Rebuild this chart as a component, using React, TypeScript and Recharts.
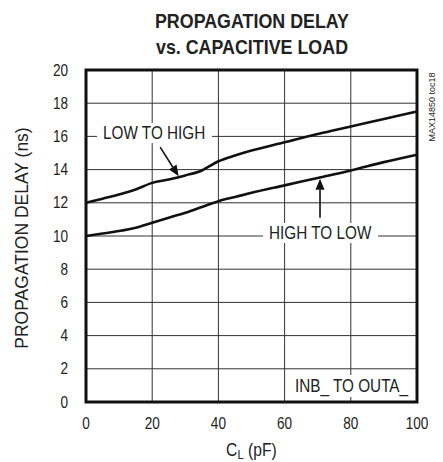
import React from 'react';
import { LineChart, Line, XAxis, YAxis, CartesianGrid, ReferenceLine, ReferenceArea } from 'recharts';

// load capacitance, pF
const CAP_LOAD = [0, 5, 10, 15, 20, 25, 30, 35, 40, 45, 50, 60, 70, 80, 90, 100];
// propagation delay, ns
const LOW_TO_HIGH = [12.0, 12.25, 12.5, 12.8, 13.2, 13.4, 13.65, 13.95, 14.5, 14.85, 15.15, 15.65, 16.15, 16.6, 17.05, 17.5];
const HIGH_TO_LOW = [10.0, 10.15, 10.3, 10.5, 10.8, 11.1, 11.4, 11.75, 12.1, 12.35, 12.6, 13.05, 13.5, 13.95, 14.45, 14.9];

const X_TICKS = [0, 20, 40, 60, 80, 100];
const Y_TICKS = [0, 2, 4, 6, 8, 10, 12, 14, 16, 18, 20];

const FONT = "'Liberation Sans', Arial, sans-serif";
const NARROW = 0.85;

const data = CAP_LOAD.map((c, i) => ({ c, lh: LOW_TO_HIGH[i], hl: HIGH_TO_LOW[i] }));

// tick text squeezed a bit, the original uses a narrow face
const NarrowTick = (props: any) => {
  const { x, y, payload, textAnchor, dy } = props;
  return (
    <text
      transform={`translate(${x},${y}) scale(${NARROW},1)`}
      textAnchor={textAnchor}
      dy={dy}
      fontFamily={FONT}
      fontSize={16}
      fill="#222"
    >
      {payload.value}
    </text>
  );
};

// line with a filled arrowhead at (x2, y2)
const Arrow = (props: any) => {
  const { x1, y1, x2, y2 } = props;
  const ang = Math.atan2(y2 - y1, x2 - x1);
  const len = 11;
  const half = 4.5;
  const bx = x2 - len * Math.cos(ang);
  const by = y2 - len * Math.sin(ang);
  const px = -Math.sin(ang) * half;
  const py = Math.cos(ang) * half;
  return (
    <g>
      <line x1={x1} y1={y1} x2={bx} y2={by} stroke="#111" strokeWidth={1.6} />
      <polygon points={`${x2},${y2} ${bx + px},${by + py} ${bx - px},${by - py}`} fill="#111" />
    </g>
  );
};

const Note = ({ left, top, width, height, text }: { left: number; top: number; width: number; height: number; text: string }) => (
  <div
    style={{
      position: 'absolute',
      left,
      top,
      width,
      height,
      background: '#fff',
      display: 'flex',
      alignItems: 'center',
      justifyContent: 'center',
      fontSize: 18,
      whiteSpace: 'nowrap',
    }}
  >
    <span style={{ display: 'inline-block', transform: `scaleX(${NARROW})` }}>{text}</span>
  </div>
);

export default function App() {
  return (
    <div style={{ position: 'relative', width: 443, height: 462, background: '#fff', fontFamily: FONT, color: '#222' }}>
      <style>{'body{margin:0}'}</style>
      <div
        style={{
          position: 'absolute',
          left: 0,
          width: 504,
          top: 8,
          textAlign: 'center',
          fontSize: 21,
          fontWeight: 'bold',
          lineHeight: '26px',
          transform: 'scaleX(0.85)',
          transformOrigin: '252px 0',
        }}
      >
        PROPAGATION DELAY
        <br />
        vs. CAPACITIVE LOAD
      </div>
      <LineChart width={443} height={462} data={data} margin={{ top: 70, right: 26, bottom: 30, left: 26 }}>
        <CartesianGrid stroke="#333" strokeWidth={1} />
        <XAxis
          dataKey="c"
          type="number"
          domain={[0, 100]}
          ticks={X_TICKS}
          axisLine={false}
          tickLine={false}
          tickSize={0}
          tickMargin={16}
          height={30}
          tick={(p: any) => <NarrowTick {...p} dy="0.71em" />}
        />
        <YAxis
          type="number"
          domain={[0, 20]}
          ticks={Y_TICKS}
          axisLine={false}
          tickLine={false}
          tickSize={0}
          tickMargin={18}
          width={60}
          tick={(p: any) => <NarrowTick {...p} dy="0.355em" />}
        />
        <ReferenceLine
          segment={[
            { x: 22.4, y: 15.35 },
            { x: 28, y: 13.6 },
          ]}
          shape={Arrow}
        />
        <ReferenceLine
          segment={[
            { x: 70.7, y: 11.1 },
            { x: 70.7, y: 13.45 },
          ]}
          shape={Arrow}
        />
        <Line type="monotone" dataKey="lh" stroke="#111" strokeWidth={2.6} dot={false} isAnimationActive={false} />
        <Line type="monotone" dataKey="hl" stroke="#111" strokeWidth={2.6} dot={false} isAnimationActive={false} />
        <ReferenceArea x1={0} x2={100} y1={0} y2={20} fill="none" stroke="#111" strokeWidth={3} />
      </LineChart>
      <Note left={97} top={123} width={115} height={20} text="LOW TO HIGH" />
      <Note left={263} top={223} width={115} height={20} text="HIGH TO LOW" />
      <Note left={290} top={375} width={124} height={22} text="INB_ TO OUTA_" />
      <div
        style={{
          position: 'absolute',
          left: 22,
          top: 238,
          transform: 'translate(-50%, -50%) rotate(-90deg)',
          whiteSpace: 'nowrap',
          fontSize: 17.5,
        }}
      >
        PROPAGATION DELAY (ns)
      </div>
      <div
        style={{
          position: 'absolute',
          left: 0,
          width: 503,
          top: 440,
          textAlign: 'center',
          fontSize: 18,
          whiteSpace: 'nowrap',
          transform: 'scaleX(0.87)',
          transformOrigin: '251px 0',
        }}
      >
        C<sub style={{ fontSize: 13, verticalAlign: '-3px' }}>L</sub> (pF)
      </div>
      <div
        style={{
          position: 'absolute',
          left: 432,
          top: 107,
          transform: 'translate(-50%, -50%) rotate(-90deg)',
          whiteSpace: 'nowrap',
          fontSize: 9,
        }}
      >
        MAX14850 toc18
      </div>
    </div>
  );
}
